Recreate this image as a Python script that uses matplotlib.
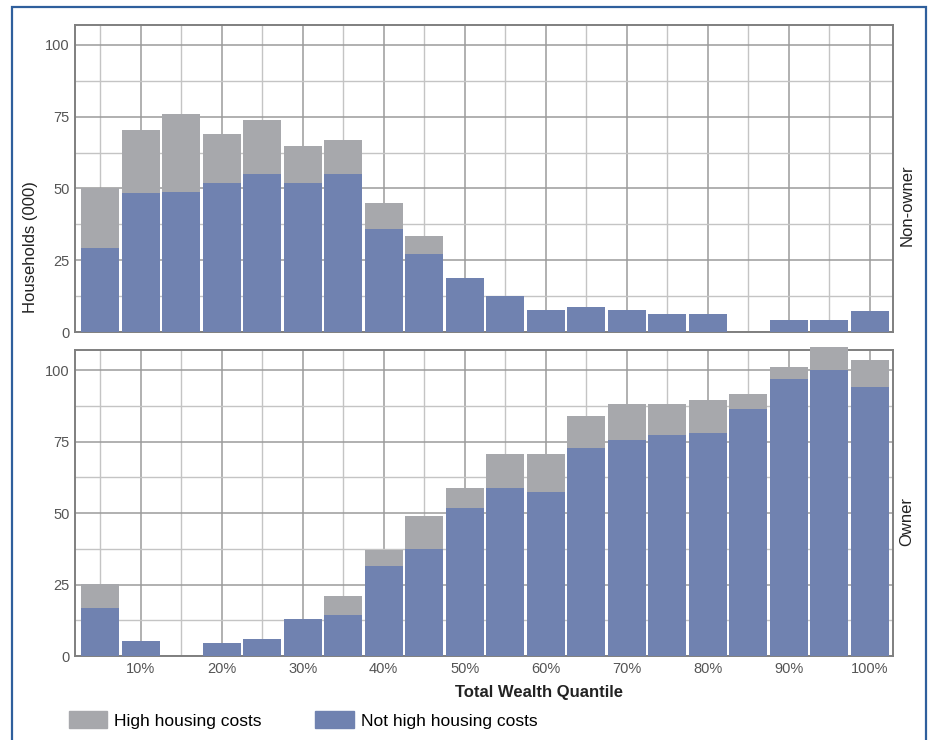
import numpy as np
import matplotlib
matplotlib.use("Agg")
import matplotlib.pyplot as plt
from matplotlib.patches import Patch, Rectangle

plt.rcParams['font.family'] = ['Liberation Sans', 'DejaVu Sans']

# data (households, thousands) by total wealth quantile
quantiles = np.arange(5, 101, 5)
tick_pos = np.arange(10, 101, 10)
tick_labels = ['%d%%' % q for q in tick_pos]

nonowner_total = [50.2, 70.2, 75.8, 68.9, 73.7, 64.7, 66.8, 44.9, 33.4, 18.8,
                  12.6, 7.7, 8.8, 7.7, 6.4, 6.4, 0.0, 4.3, 4.3, 7.4]
nonowner_not_high = [29.3, 48.4, 48.7, 51.8, 55.0, 51.8, 55.0, 35.9, 27.3, 18.8,
                     12.6, 7.7, 8.8, 7.7, 6.4, 6.4, 0.0, 4.3, 4.3, 7.4]
owner_total = [25.1, 5.4, 0.0, 4.4, 5.8, 13.1, 21.1, 37.1, 48.8, 58.9,
               70.7, 70.7, 83.9, 88.1, 88.1, 89.5, 91.6, 101.0, 107.9, 103.4]
owner_not_high = [16.9, 5.4, 0.0, 4.4, 5.8, 13.1, 14.5, 31.5, 37.4, 51.6,
                  58.6, 57.5, 72.8, 75.6, 77.3, 78.0, 86.4, 96.8, 99.9, 94.0]

panels = ['Non-owner', 'Owner']
c_high = '#a7a8ac'
c_not = '#7082b0'

W, H = 930, 740
fig = plt.figure(figsize=(W / 100, H / 100), dpi=100)

def px(l, t, r, b):
    return [l / W, (H - b) / H, (r - l) / W, (b - t) / H]

ax1 = fig.add_axes(px(75, 24.7, 893, 332))
ax2 = fig.add_axes(px(75, 350, 893, 656))

# strip label centres (pixels from top)
strip_y = [205, 522]

for ax, tot, base, name, sy in [(ax1, nonowner_total, nonowner_not_high, panels[0], strip_y[0]),
                                (ax2, owner_total, owner_not_high, panels[1], strip_y[1])]:
    tot = np.array(tot)
    base = np.array(base)
    ax.bar(quantiles, tot - base, width=4.69, bottom=base, color=c_high,
           linewidth=0, zorder=3, clip_on=False)
    ax.bar(quantiles, base, width=4.69, color=c_not, linewidth=0, zorder=3,
           clip_on=False)
    ax.set_xlim(1.9, 102.85)
    ax.set_ylim(0, 107)
    ax.set_yticks([0, 25, 50, 75, 100])
    ax.set_yticks([12.5, 37.5, 62.5, 87.5], minor=True)
    ax.set_xticks(tick_pos)
    ax.set_xticks(np.arange(5, 100, 10), minor=True)
    ax.grid(which='major', color='#9b9b9b', linewidth=1.1, zorder=0)
    ax.grid(which='minor', color='#c4c4c4', linewidth=1.0, zorder=0)
    ax.set_axisbelow(True)
    for s in ax.spines.values():
        s.set_color('#7f7f7f')
        s.set_linewidth(1.4)
    ax.tick_params(which='both', length=0, colors='#7f7f7f',
                   labelcolor='#555555', labelsize=10.5, pad=4)
    fig.text(907 / W, 1 - sy / H, name, rotation=90, ha='center',
             va='center', fontsize=12, color='#222222')

ax1.tick_params(axis='x', which='both', labelbottom=False)
ax2.set_xticklabels(tick_labels)

fig.text(30 / W, 1 - 247 / H, 'Households (000)', rotation=90, ha='center',
         va='center', fontsize=12, color='#222222')
fig.text(539 / W, 1 - 692 / H, 'Total Wealth Quantile', ha='center',
         va='center', fontsize=12, fontweight='bold', color='#222222')

handles = [Patch(color=c_high, label='High housing costs'),
           Patch(color=c_not, label='Not high housing costs')]
fig.legend(handles=handles, loc='center left', bbox_to_anchor=(69 / W, 20 / H),
           ncol=2, frameon=False, fontsize=12.5, handlelength=2.2,
           handleheight=1.15, handletextpad=0.4, columnspacing=3.1,
           borderpad=0, borderaxespad=0)

fig.patches.append(Rectangle((12 / W, -0.05), 914 / W, (H - 7) / H + 0.05,
                             transform=fig.transFigure, fill=False,
                             edgecolor='#2f5f9c', linewidth=1.6))

fig.savefig('out.png', dpi=100)
